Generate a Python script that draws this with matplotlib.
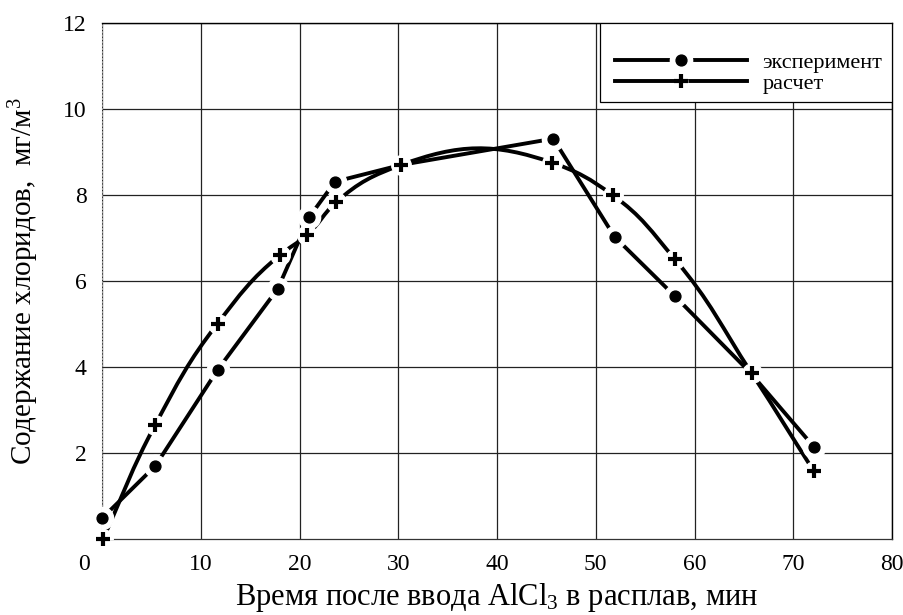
import numpy as np
import matplotlib
matplotlib.use('Agg')
import matplotlib.pyplot as plt
from matplotlib.path import Path
from matplotlib.patches import PathPatch, Rectangle
from matplotlib.lines import Line2D
from matplotlib.legend_handler import HandlerTuple
from matplotlib.transforms import ScaledTranslation

plt.rcParams['font.family'] = ['Liberation Serif', 'DejaVu Serif']
plt.rcParams['mathtext.fontset'] = 'custom'
plt.rcParams['mathtext.rm'] = 'Liberation Serif'
plt.rcParams['mathtext.it'] = 'Liberation Serif:italic'
plt.rcParams['mathtext.bf'] = 'Liberation Serif:bold'

# ---- data ----
exp_x = [0.0, 5.4, 11.7, 17.8, 21.0, 23.6, 30.3, 45.7, 51.9, 58.0, 65.6, 72.1]
exp_y = [0.48, 1.70, 3.93, 5.82, 7.49, 8.31, 8.70, 9.31, 7.03, 5.65, 3.88, 2.14]
exp_hidden = [6, 10]          # points covered by the "расчет" markers

calc_x = [0.1, 5.4, 11.7, 18.0, 20.8, 23.7, 30.3, 45.6, 51.7, 58.0, 65.8, 72.1]
calc_y = [0.0, 2.66, 5.01, 6.60, 7.08, 7.83, 8.70, 8.75, 8.00, 6.51, 3.85, 1.57]

x_ticks = [0, 10, 20, 30, 40, 50, 60, 70, 80]
y_ticks = [2, 4, 6, 8, 10, 12]
labels = ['эксперимент', 'расчет']
xlabel = 'Время после ввода AlCl$_{\\mathrm{3}}$ в расплав, мин'
ylabel = 'Содержание хлоридов,  мг/м$^{\\mathrm{3}}$'

W, H = 904, 615
fig = plt.figure(figsize=(W / 100, H / 100), dpi=100)
L, R, T, B = 102, 892, 23, 539
ax = fig.add_axes([L / W, 1 - B / H, (R - L) / W, (B - T) / H])
ax.set_xlim(0, 80)
ax.set_ylim(0, 12)

ax.set_xticks(x_ticks)
ax.set_yticks(y_ticks)
ax.tick_params(length=0, labelsize=17, colors='black')
ax.tick_params(axis='x', pad=11)
ax.tick_params(axis='y', pad=11)
ax.grid(True, color='#222222', lw=0.9, zorder=0)
ax.set_axisbelow(True)

for s in ['top', 'right']:
    ax.spines[s].set_color('black')
    ax.spines[s].set_linewidth(1.0)
ax.spines['bottom'].set_color('#333333')
ax.spines['bottom'].set_linewidth(0.9)
ax.spines['left'].set_color('#999999')
ax.spines['left'].set_linewidth(0.8)
ax.spines['left'].set_linestyle((0, (1, 2)))

# shift the "0" label left, as in the reference
t0 = ax.xaxis.get_major_ticks()[0]
t0.label1.set_transform(t0.label1.get_transform() + ScaledTranslation(-18 / 100, 0, fig.dpi_scale_trans))

ax.set_xlabel(xlabel, fontsize=22, labelpad=4)
ax.set_ylabel(ylabel, fontsize=21, labelpad=16)

TENSION = 1.25


def smooth_path(xs, ys):
    pts = ax.transData.transform(np.column_stack([xs, ys]))
    ext = np.vstack([2 * pts[0] - pts[1], pts, 2 * pts[-1] - pts[-2]])
    verts = [pts[0]]
    codes = [Path.MOVETO]
    for i in range(len(pts) - 1):
        p0, p1, p2, p3 = ext[i], ext[i + 1], ext[i + 2], ext[i + 3]
        d01 = np.linalg.norm(p1 - p0)
        d12 = np.linalg.norm(p2 - p1)
        d23 = np.linalg.norm(p3 - p2)
        m1 = (p1 - p0) / d01 - (p2 - p0) / (d01 + d12) + (p2 - p1) / d12
        m2 = (p2 - p1) / d12 - (p3 - p1) / (d12 + d23) + (p3 - p2) / d23
        verts += [p1 + TENSION * m1 * d12 / 3, p2 - TENSION * m2 * d12 / 3, p2]
        codes += [Path.CURVE4] * 3
    verts = ax.transData.inverted().transform(np.array(verts))
    return Path(verts, codes)


LW = 2.8
# experiment: polyline
ax.plot(exp_x, exp_y, color='black', lw=LW, zorder=2, solid_capstyle='butt')
# calculation: smooth curve
ax.add_patch(PathPatch(smooth_path(calc_x, calc_y), fill=False, edgecolor='black',
                       lw=LW, zorder=2, capstyle='butt'))

exp_show = [i for i in range(len(exp_x)) if i not in exp_hidden]
# white halos (gaps around markers)
ax.plot(exp_x, exp_y, ls='none', marker='o', ms=16, color='white', markevery=exp_show, zorder=3)
ax.plot(calc_x, calc_y, ls='none', marker='o', ms=14, color='white', zorder=3)
# markers
ax.plot(exp_x, exp_y, ls='none', marker='o', ms=7.8, color='black', markevery=exp_show,
        zorder=4, clip_on=False)
ax.plot(calc_x, calc_y, ls='none', marker='+', ms=10, mew=3, color='black', zorder=4, clip_on=False)

# legend box
ax.add_patch(Rectangle(((600 - L) / (R - L), (B - 102) / (B - T)), (R - 600) / (R - L), (102 - T) / (B - T),
                       transform=ax.transAxes, facecolor='white', edgecolor='black', lw=0.9, zorder=5))

h1 = (Line2D([], [], color='black', lw=LW),
      Line2D([], [], ls='none', marker='o', ms=16, color='white'),
      Line2D([], [], ls='none', marker='o', ms=7.8, color='black'))
h2 = (Line2D([], [], color='black', lw=LW),
      Line2D([], [], ls='none', marker='o', ms=9, color='white'),
      Line2D([], [], ls='none', marker='+', ms=10, mew=3, color='black'))
leg = ax.legend([h1, h2], labels, handler_map={tuple: HandlerTuple(ndivide=1, pad=0)},
                loc='upper left', bbox_to_anchor=((615 - L) / (R - L), (B - 52) / (B - T)),
                frameon=False, fontsize=16, handlelength=5.95, handletextpad=0.68,
                labelspacing=0.02, borderpad=0, borderaxespad=0, numpoints=1)
leg.set_zorder(6)

fig.savefig('out.png', dpi=100)
